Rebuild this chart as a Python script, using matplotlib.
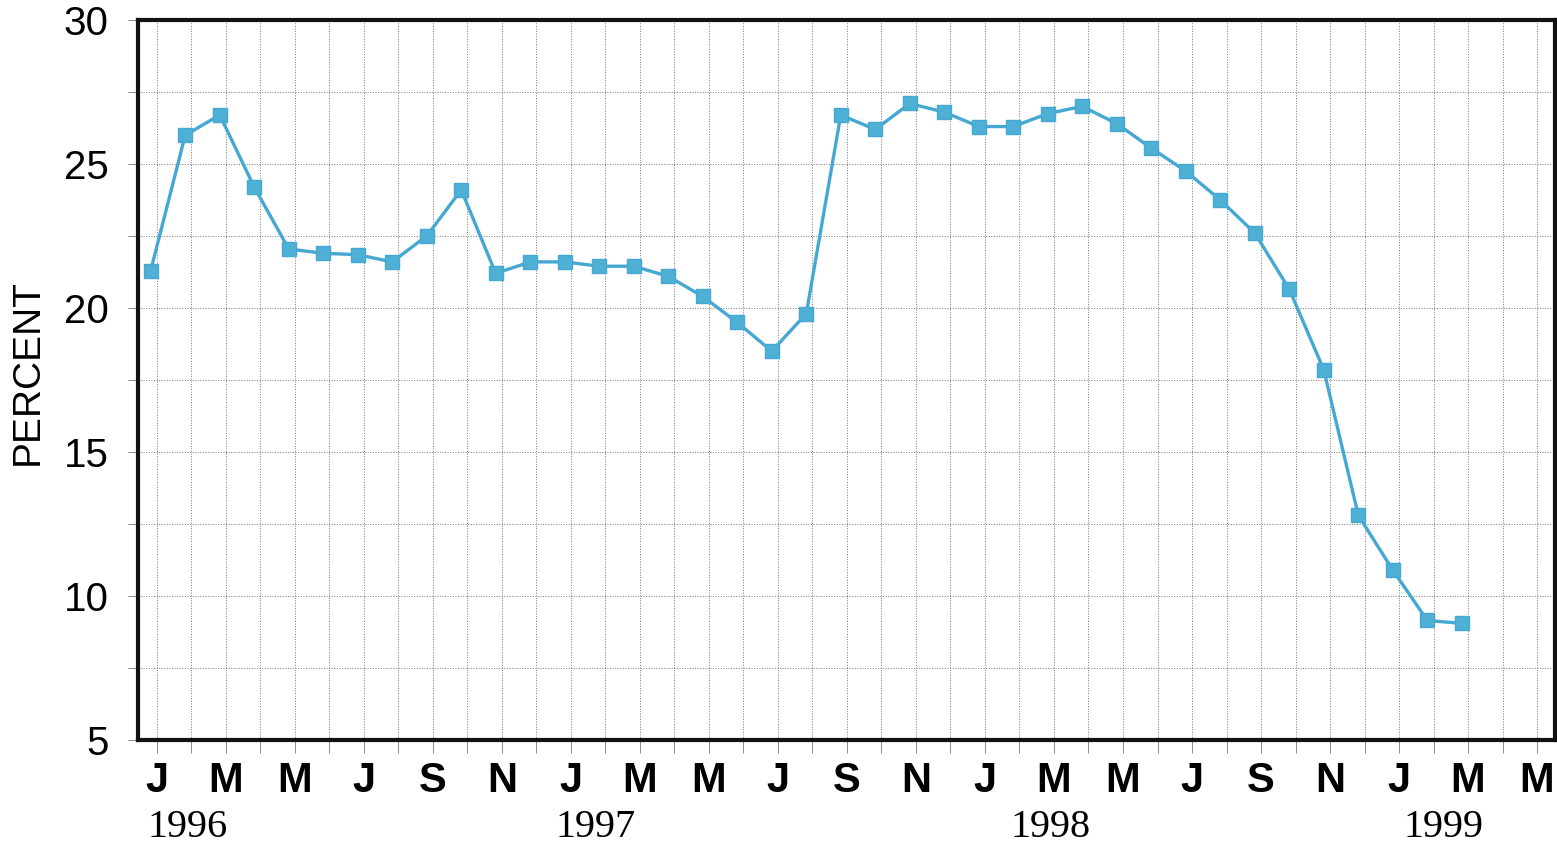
import matplotlib
matplotlib.use("Agg")
import matplotlib.pyplot as plt
import numpy as np

# monthly percent, Jan 1996 - Mar 1999
percent = [21.3, 26.0, 26.7, 24.2, 22.05, 21.9, 21.85, 21.6, 22.5, 24.1,
           21.2, 21.6, 21.6, 21.45, 21.45, 21.1, 20.4, 19.5, 18.5, 19.8,
           26.7, 26.2, 27.1, 26.8, 26.3, 26.3, 26.75, 27.0, 26.4, 25.55,
           24.75, 23.75, 22.6, 20.65, 17.85, 12.8, 10.9, 9.15, 9.05]
month_letters = ["J", "M", "M", "J", "S", "N"]
years = ["1996", "1997", "1998", "1999"]
year_pos = [0.9, 12.7, 25.9, 37.3]

months = np.arange(len(percent)) - 0.18

fig = plt.figure(figsize=(15.57, 8.5), dpi=100)
ax = fig.add_axes([0.0886, 0.1294, 0.9101, 0.8471])

ax.plot(months, percent, color="#45a8d2", linewidth=2.4, marker="s",
        markersize=10.5, markerfacecolor="#4fb0d6", markeredgecolor="#45a8d2", zorder=3)

ax.set_xlim(-0.55, 40.52)
ax.set_ylim(5, 30)

ax.set_xticks(np.arange(0, 41, 1), minor=True)
ax.set_xticks(np.arange(0, 41, 2))
ax.set_xticklabels([month_letters[i % 6] for i in range(21)],
                   fontsize=30, fontweight="bold", family="Liberation Sans")
ax.set_yticks(np.arange(5, 30.1, 2.5), minor=True)
ax.set_yticks(np.arange(5, 31, 5))
ax.set_yticklabels([str(v) for v in range(5, 31, 5)], fontsize=29, family="Liberation Sans")

ax.tick_params(axis="x", which="both", length=9, width=0.6, color="#777777", pad=6)
ax.tick_params(axis="y", which="both", length=7, width=0.6, color="#777777", pad=14)
ax.grid(True, which="both", color="#777777", linestyle=":", linewidth=0.7)
ax.set_axisbelow(True)

for s in ax.spines.values():
    s.set_linewidth(3)
    s.set_color("#111111")

for yr, xp in zip(years, year_pos):
    ax.text(xp, -0.122, yr, transform=ax.get_xaxis_transform(), ha="center", va="center",
            fontsize=29, family="Liberation Serif")

fig.text(28 / 1557, 1 - 372 / 850, "PERCENT", rotation=90, ha="center", va="center",
         fontsize=28, family="Liberation Sans")

fig.savefig("out.png", dpi=100)
